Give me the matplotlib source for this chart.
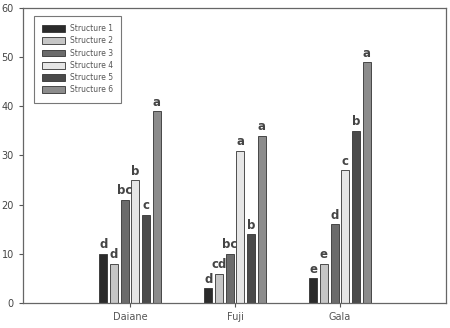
import matplotlib
matplotlib.use("Agg")
import matplotlib.pyplot as plt
import numpy as np

categories = ["Daiane", "Fuji", "Gala"]
series_names = ["Structure 1", "Structure 2", "Structure 3", "Structure 4", "Structure 5", "Structure 6"]
values = [
    [10, 3, 5],
    [8, 6, 8],
    [21, 10, 16],
    [25, 31, 27],
    [18, 14, 35],
    [39, 34, 49],
]
letters = [
    ["d", "d", "e"],
    ["d", "cd", "e"],
    ["bc", "bc", "d"],
    ["b", "a", "c"],
    ["c", "b", "b"],
    ["a", "a", "a"],
]
colors = ["#2b2b2b", "#c6c6c6", "#6b6b6b", "#e6e6e6", "#4a4a4a", "#8c8c8c"]
yticks = [0, 10, 20, 30, 40, 50, 60]

fig = plt.figure(figsize=(4.5, 3.28), dpi=100)
ax = fig.add_axes([0.051, 0.076, 0.94, 0.9])

x = np.arange(len(categories))
pitch = 0.102
width = 0.076
for i, (name, vals, col) in enumerate(zip(series_names, values, colors)):
    pos = x + (i - 2.5) * pitch
    ax.bar(pos, vals, width=width, color=col, edgecolor="#333333", linewidth=0.6, label=name)
    for p, v, l in zip(pos, vals, letters[i]):
        ax.text(p, v + 0.5, l, ha="center", va="bottom", fontsize=8.5, fontweight="bold", color="#444444")

ax.set_xlim(-1.02, 3.01)
ax.set_ylim(0, 60)
ax.set_yticks(yticks)
ax.set_xticks(x)
ax.set_xticklabels(categories)
ax.tick_params(axis="both", labelsize=7, colors="#555555", length=3, width=0.8, direction="out")
ax.tick_params(axis="y", labelcolor="#444444")
for s in ax.spines.values():
    s.set_color("#666666")
    s.set_linewidth(0.9)

leg = ax.legend(loc="upper left", bbox_to_anchor=(0.017, 0.986), fontsize=5.5, frameon=True,
                fancybox=False, edgecolor="#555555", handlelength=2.9, handleheight=1.0,
                labelspacing=0.42, borderpad=1.1, handletextpad=0.7)
leg.get_frame().set_linewidth(0.8)
for t in leg.get_texts():
    t.set_color("#555555")

fig.savefig("out.png", dpi=100)
